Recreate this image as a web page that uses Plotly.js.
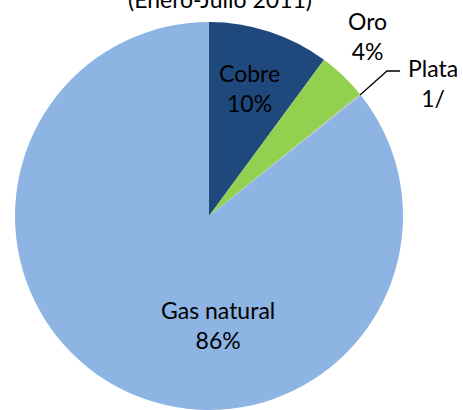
<!DOCTYPE html>
<html>
<head>
<meta charset="utf-8">
<script src="https://cdn.plot.ly/plotly-3.0.1.min.js"></script>
<style>html,body{margin:0;padding:0;background:#fff;}#chart{width:463px;height:410px;}</style>
</head>
<body>
<div id="chart"></div>
<script>
var categories = ["Cobre", "Oro", "Plata", "Gas natural"];
var values = [10.1, 4.1, 0.1, 85.7];
var colors = ["#1F497D", "#92D050", "#BFBFBF", "#8DB4E2"];
var pctLabels = ["10%", "4%", "1/", "86%"];
var titleText = "(Enero-Julio 2011)";

var W = 463, H = 410;
function px(x) { return x / W; }
function py(y) { return 1 - y / H; }

// label positions in pixels (text centres)
var labelPos = [[250, 88], [367, 36], [433, 83], [218, 325]];

var font = {family: "Lato, 'Liberation Sans', sans-serif", size: 23, color: "#000"};

var annotations = categories.map(function (c, i) {
  return {
    xref: "paper", yref: "paper",
    x: px(labelPos[i][0]), y: py(labelPos[i][1]),
    xanchor: "center", yanchor: "middle",
    text: c + "<br>" + pctLabels[i],
    showarrow: false,
    font: font
  };
});

var data = [{
  type: "pie",
  labels: categories,
  values: values,
  marker: {colors: colors, line: {width: 0}},
  sort: false,
  direction: "clockwise",
  rotation: 0,
  textinfo: "none",
  hoverinfo: "label+percent",
  domain: {x: [px(15), px(403)], y: [py(410), py(22)]},
  showlegend: false
}];

var layout = {
  width: W, height: H,
  margin: {l: 0, r: 0, t: 0, b: 0},
  paper_bgcolor: "#fff",
  showlegend: false,
  title: {text: titleText, x: px(220), xanchor: "center", y: 1, yanchor: "middle", font: font},
  annotations: annotations,
  shapes: [{
    type: "path", xref: "paper", yref: "paper",
    path: "M " + px(360) + "," + py(95) + " L " + px(387) + "," + py(71) + " L " + px(400) + "," + py(71),
    line: {color: "#000", width: 1.3}
  }]
};

Plotly.newPlot("chart", data, layout, {displayModeBar: false, staticPlot: true});
</script>
</body>
</html>
